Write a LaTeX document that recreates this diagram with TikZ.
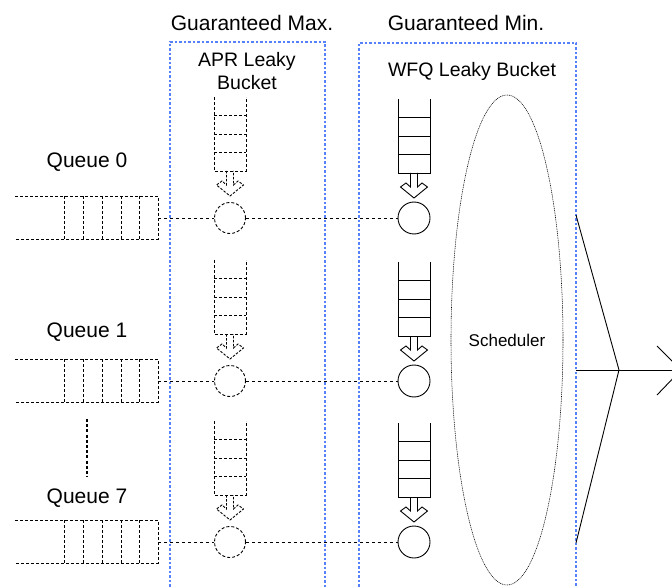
\documentclass[tikz,border=0pt]{standalone}
\usepackage{fontspec}
\setmainfont{Liberation Sans}
\definecolor{boxblue}{RGB}{85,130,250}
\begin{document}
\begin{tikzpicture}[x=1pt,y=-1pt,
  qline/.style={line width=0.9pt,dash pattern=on 3pt off 2pt},
  bluebox/.style={boxblue,line width=1.1pt,dash pattern=on 2.5pt off 2pt},
  aprline/.style={line width=0.9pt,dash pattern=on 3pt off 2pt},
  wfqline/.style={line width=0.9pt},
  link/.style={line width=0.9pt,dash pattern=on 3pt off 3pt},
  aprcirc/.style={circle,draw,aprline,minimum size=31pt,inner sep=0pt},
  wfqcirc/.style={circle,draw,wfqline,minimum size=32pt,inner sep=0pt},
  hdr/.style={inner sep=0pt,font=\fontsize{21}{24}\selectfont},
  lbl/.style={inner sep=0pt,font=\fontsize{19.5}{23}\selectfont,align=center},
  qlbl/.style={inner sep=0pt,font=\fontsize{21}{24}\selectfont},
  outl/.style={line width=0.9pt}
]
\useasboundingbox (0,0) rectangle (672,588);
\clip (0,0) rectangle (672,588);

% blue boxes
\draw[bluebox] (170,600) -- (170,42) -- (325,42) -- (325,600);
\draw[bluebox] (359,600) -- (359,43) -- (576,43) -- (576,600);

% headers
\node[hdr] (hmax) at (252,23) {Guaranteed Max.};
\node[hdr] (hmin) at (466,23) {Guaranteed Min.};
\node[lbl] (apr) at (247,71) {APR Leaky\\Bucket};
\node[lbl] (wfq) at (472,71) {WFQ Leaky Bucket};

% scheduler ellipse
\draw[line width=0.55pt,dash pattern=on 1pt off 0.8pt] (507,340) ellipse [x radius=56, y radius=245];
\node[inner sep=0pt,font=\fontsize{17}{20}\selectfont] (sched) at (507,340) {Scheduler};

% queue labels
\node[qlbl] (l0) at (87,162) {Queue 0};
\node[qlbl] (l1) at (87,332) {Queue 1};
\node[qlbl] (l7) at (87,498) {Queue 7};
\coordinate (d1) at (87,419);
\coordinate (d2) at (87,477);
\draw[line width=2.6pt,dash pattern=on 3pt off 2.2pt] (d1) -- (d2);

% rows
\foreach \n/\yc in {0/218,1/381,7/542}{
  % input queue
  \draw[qline] (15,\yc-22) -- (158,\yc-22) -- (158,\yc+21) -- (15,\yc+21);
  \foreach \xx in {64,83,102,121,139}{
    \draw[qline] (\xx,\yc-22) -- (\xx,\yc+21);
  }
  \coordinate (q\n) at (158,\yc);
  % APR bucket
  \draw[aprline] (214,\yc-121) -- (214,\yc-47) -- (246,\yc-47) -- (246,\yc-121);
  \foreach \k in {1,2,3}{
    \draw[aprline] (214,\yc-121+18.5*\k) -- (246,\yc-121+18.5*\k);
  }
  \draw[aprline,dash pattern=on 2.5pt off 1.5pt,line join=miter]
    (226.5,\yc-47) -- (226.5,\yc-33) -- (222,\yc-37) -- (216.5,\yc-33)
    -- (230,\yc-22) -- (243.5,\yc-33) -- (238,\yc-37) -- (233.5,\yc-33) -- (233.5,\yc-47);
  \node[aprcirc] (a\n) at (230,\yc) {};
  % WFQ bucket
  \draw[wfqline] (398,\yc-119) -- (398,\yc-45) -- (430,\yc-45) -- (430,\yc-119);
  \foreach \k in {1,2,3}{
    \draw[wfqline] (398,\yc-119+18.5*\k) -- (430,\yc-119+18.5*\k);
  }
  \draw[wfqline,line join=miter]
    (410.5,\yc-45) -- (410.5,\yc-31) -- (406,\yc-35) -- (400.5,\yc-31)
    -- (414,\yc-20) -- (427.5,\yc-31) -- (422,\yc-35) -- (417.5,\yc-31) -- (417.5,\yc-45);
  \node[wfqcirc] (w\n) at (414,\yc) {};
  % links
  \draw[link] (q\n) -- (a\n.west);
  \draw[link] (a\n.east) -- (w\n.west);
}

% output
\coordinate (o0) at (576,215);
\coordinate (o7) at (576,543);
\coordinate (os) at (576,370);
\coordinate (m) at (619,370);
\coordinate (tip) at (681,370);
\coordinate (h1) at (657,346);
\coordinate (h2) at (657,395);
\draw[outl] (o0) -- (m) -- (o7);
\draw[outl] (os) -- (tip);
\draw[outl] (h1) -- (tip) -- (h2);
\end{tikzpicture}
\end{document}
